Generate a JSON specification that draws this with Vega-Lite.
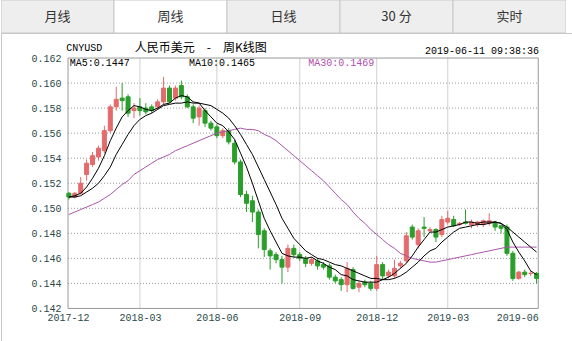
{
  "$schema": "https://vega.github.io/schema/vega-lite/v6.json",
  "padding": 0,
  "spacing": 0,
  "bounds": "flush",
  "background": "white",
  "config": {
    "view": {"stroke": null},
    "axis": {"title": null, "grid": false, "domain": false, "ticks": false, "labelFont": "Liberation Mono", "labelFontSize": 10, "labelColor": "#2a4a4a", "labelOverlap": false},
    "axisY": {"labelOverlap": false, "labelSeparation": 0, "tickCount": 30},
    "axisX": {"labelOverlap": false, "labelFlush": false, "tickCount": 30}
  },
  "datasets": {
    "tabs": [{"tab": "月线"}, {"tab": "周线"}, {"tab": "日线"}, {"tab": "30 分"}, {"tab": "实时"}],
    "hg": [{"v": 0.144}, {"v": 0.146}, {"v": 0.148}, {"v": 0.150}, {"v": 0.152}, {"v": 0.154}, {"v": 0.156}, {"v": 0.158}, {"v": 0.160}],
    "vg": [{"d": "2018/03/02"}, {"d": "2018/06/01"}, {"d": "2018/09/07"}, {"d": "2018/12/07"}, {"d": "2019/03/01"}],
    "k": [
      {"d":"2017/12/08","o":0.1512,"h":0.1513,"l":0.1507,"c":0.1509,"m5":0.1509,"m10":0.1509,"m30":0.1495},
      {"d":"2017/12/15","o":0.1509,"h":0.1513,"l":0.1508,"c":0.1512,"m5":0.1510,"m10":0.1509,"m30":0.1497},
      {"d":"2017/12/22","o":0.1512,"h":0.1525,"l":0.1511,"c":0.1520,"m5":0.1512,"m10":0.1510,"m30":0.1499},
      {"d":"2017/12/29","o":0.1527,"h":0.1539,"l":0.1522,"c":0.1536,"m5":0.1517,"m10":0.1513,"m30":0.1501},
      {"d":"2018/01/05","o":0.1535,"h":0.1545,"l":0.1533,"c":0.1542,"m5":0.1524,"m10":0.1516,"m30":0.1503},
      {"d":"2018/01/12","o":0.1541,"h":0.1550,"l":0.1538,"c":0.1548,"m5":0.1532,"m10":0.1520,"m30":0.1505},
      {"d":"2018/01/19","o":0.1546,"h":0.1566,"l":0.1544,"c":0.1562,"m5":0.1542,"m10":0.1526,"m30":0.1508},
      {"d":"2018/01/26","o":0.1562,"h":0.1583,"l":0.1560,"c":0.1581,"m5":0.1554,"m10":0.1533,"m30":0.1511},
      {"d":"2018/02/02","o":0.1581,"h":0.1597,"l":0.1578,"c":0.1587,"m5":0.1564,"m10":0.1543,"m30":0.1515},
      {"d":"2018/02/09","o":0.1588,"h":0.1600,"l":0.1578,"c":0.1586,"m5":0.1573,"m10":0.1551,"m30":0.1519},
      {"d":"2018/02/16","o":0.1589,"h":0.1591,"l":0.1573,"c":0.1576,"m5":0.1578,"m10":0.1559,"m30":0.1522},
      {"d":"2018/02/23","o":0.1578,"h":0.1584,"l":0.1572,"c":0.1580,"m5":0.1582,"m10":0.1566,"m30":0.1527},
      {"d":"2018/03/02","o":0.1581,"h":0.1588,"l":0.1574,"c":0.1578,"m5":0.1581,"m10":0.1571,"m30":0.1530},
      {"d":"2018/03/09","o":0.1580,"h":0.1584,"l":0.1575,"c":0.1577,"m5":0.1579,"m10":0.1574,"m30":0.1533},
      {"d":"2018/03/16","o":0.1581,"h":0.1583,"l":0.1576,"c":0.1578,"m5":0.1578,"m10":0.1576,"m30":0.1536},
      {"d":"2018/03/23","o":0.1581,"h":0.1587,"l":0.1579,"c":0.1585,"m5":0.1580,"m10":0.1579,"m30":0.1539},
      {"d":"2018/03/30","o":0.1585,"h":0.1605,"l":0.1583,"c":0.1596,"m5":0.1583,"m10":0.1582,"m30":0.1541},
      {"d":"2018/04/06","o":0.1596,"h":0.1598,"l":0.1584,"c":0.1585,"m5":0.1584,"m10":0.1583,"m30":0.1543},
      {"d":"2018/04/13","o":0.1588,"h":0.1598,"l":0.1586,"c":0.1596,"m5":0.1588,"m10":0.1584,"m30":0.1546},
      {"d":"2018/04/20","o":0.1598,"h":0.1602,"l":0.1587,"c":0.1589,"m5":0.1590,"m10":0.1584,"m30":0.1548},
      {"d":"2018/04/27","o":0.1589,"h":0.1591,"l":0.1580,"c":0.1581,"m5":0.1589,"m10":0.1585,"m30":0.1550},
      {"d":"2018/05/04","o":0.1581,"h":0.1583,"l":0.1568,"c":0.1572,"m5":0.1585,"m10":0.1584,"m30":0.1552},
      {"d":"2018/05/11","o":0.1573,"h":0.1582,"l":0.1566,"c":0.1580,"m5":0.1584,"m10":0.1584,"m30":0.1554},
      {"d":"2018/05/18","o":0.1578,"h":0.1580,"l":0.1565,"c":0.1568,"m5":0.1578,"m10":0.1583,"m30":0.1556},
      {"d":"2018/05/25","o":0.1568,"h":0.1570,"l":0.1562,"c":0.1564,"m5":0.1573,"m10":0.1582,"m30":0.1558},
      {"d":"2018/06/01","o":0.1565,"h":0.1567,"l":0.1556,"c":0.1558,"m5":0.1568,"m10":0.1579,"m30":0.1560},
      {"d":"2018/06/08","o":0.1558,"h":0.1564,"l":0.1556,"c":0.1562,"m5":0.1566,"m10":0.1576,"m30":0.1561},
      {"d":"2018/06/15","o":0.1562,"h":0.1564,"l":0.1551,"c":0.1553,"m5":0.1561,"m10":0.1572,"m30":0.1562},
      {"d":"2018/06/22","o":0.1552,"h":0.1555,"l":0.1535,"c":0.1537,"m5":0.1555,"m10":0.1566,"m30":0.1563},
      {"d":"2018/06/29","o":0.1537,"h":0.1539,"l":0.1509,"c":0.1511,"m5":0.1544,"m10":0.1559,"m30":0.1564},
      {"d":"2018/07/06","o":0.1511,"h":0.1514,"l":0.1497,"c":0.1504,"m5":0.1533,"m10":0.1551,"m30":0.1563},
      {"d":"2018/07/13","o":0.1506,"h":0.1510,"l":0.1489,"c":0.1497,"m5":0.1520,"m10":0.1543,"m30":0.1563},
      {"d":"2018/07/20","o":0.1497,"h":0.1499,"l":0.1468,"c":0.1479,"m5":0.1506,"m10":0.1533,"m30":0.1562},
      {"d":"2018/07/27","o":0.1482,"h":0.1484,"l":0.1461,"c":0.1467,"m5":0.1492,"m10":0.1523,"m30":0.1559},
      {"d":"2018/08/03","o":0.1466,"h":0.1468,"l":0.1451,"c":0.1462,"m5":0.1482,"m10":0.1513,"m30":0.1557},
      {"d":"2018/08/10","o":0.1463,"h":0.1465,"l":0.1456,"c":0.1459,"m5":0.1473,"m10":0.1503,"m30":0.1554},
      {"d":"2018/08/17","o":0.1459,"h":0.1462,"l":0.1440,"c":0.1453,"m5":0.1464,"m10":0.1492,"m30":0.1550},
      {"d":"2018/08/24","o":0.1453,"h":0.1471,"l":0.1449,"c":0.1468,"m5":0.1462,"m10":0.1484,"m30":0.1546},
      {"d":"2018/08/31","o":0.1468,"h":0.1471,"l":0.1461,"c":0.1463,"m5":0.1461,"m10":0.1476,"m30":0.1542},
      {"d":"2018/09/07","o":0.1463,"h":0.1465,"l":0.1458,"c":0.1460,"m5":0.1461,"m10":0.1471,"m30":0.1538},
      {"d":"2018/09/14","o":0.1460,"h":0.1462,"l":0.1453,"c":0.1456,"m5":0.1460,"m10":0.1466,"m30":0.1534},
      {"d":"2018/09/21","o":0.1456,"h":0.1461,"l":0.1454,"c":0.1459,"m5":0.1461,"m10":0.1463,"m30":0.1530},
      {"d":"2018/09/28","o":0.1458,"h":0.1460,"l":0.1451,"c":0.1454,"m5":0.1458,"m10":0.1460,"m30":0.1526},
      {"d":"2018/10/05","o":0.1455,"h":0.1457,"l":0.1451,"c":0.1453,"m5":0.1456,"m10":0.1459,"m30":0.1522},
      {"d":"2018/10/12","o":0.1454,"h":0.1456,"l":0.1443,"c":0.1445,"m5":0.1453,"m10":0.1457,"m30":0.1517},
      {"d":"2018/10/19","o":0.1445,"h":0.1447,"l":0.1440,"c":0.1442,"m5":0.1451,"m10":0.1455,"m30":0.1512},
      {"d":"2018/10/26","o":0.1443,"h":0.1445,"l":0.1434,"c":0.1439,"m5":0.1447,"m10":0.1454,"m30":0.1507},
      {"d":"2018/11/02","o":0.1439,"h":0.1457,"l":0.1433,"c":0.1452,"m5":0.1446,"m10":0.1452,"m30":0.1503},
      {"d":"2018/11/09","o":0.1451,"h":0.1453,"l":0.1435,"c":0.1436,"m5":0.1443,"m10":0.1450,"m30":0.1497},
      {"d":"2018/11/16","o":0.1437,"h":0.1442,"l":0.1433,"c":0.1440,"m5":0.1442,"m10":0.1448,"m30":0.1492},
      {"d":"2018/11/23","o":0.1441,"h":0.1443,"l":0.1437,"c":0.1439,"m5":0.1441,"m10":0.1446,"m30":0.1488},
      {"d":"2018/11/30","o":0.1440,"h":0.1442,"l":0.1434,"c":0.1436,"m5":0.1441,"m10":0.1444,"m30":0.1483},
      {"d":"2018/12/07","o":0.1436,"h":0.1462,"l":0.1434,"c":0.1455,"m5":0.1441,"m10":0.1444,"m30":0.1479},
      {"d":"2018/12/14","o":0.1455,"h":0.1457,"l":0.1443,"c":0.1446,"m5":0.1443,"m10":0.1443,"m30":0.1475},
      {"d":"2018/12/21","o":0.1446,"h":0.1451,"l":0.1444,"c":0.1449,"m5":0.1445,"m10":0.1443,"m30":0.1471},
      {"d":"2018/12/28","o":0.1446,"h":0.1459,"l":0.1444,"c":0.1452,"m5":0.1448,"m10":0.1444,"m30":0.1468},
      {"d":"2019/01/04","o":0.1454,"h":0.1458,"l":0.1452,"c":0.1456,"m5":0.1452,"m10":0.1446,"m30":0.1464},
      {"d":"2019/01/11","o":0.1458,"h":0.1481,"l":0.1456,"c":0.1478,"m5":0.1456,"m10":0.1449,"m30":0.1462},
      {"d":"2019/01/18","o":0.1485,"h":0.1487,"l":0.1475,"c":0.1477,"m5":0.1462,"m10":0.1453,"m30":0.1460},
      {"d":"2019/01/25","o":0.1471,"h":0.1484,"l":0.1468,"c":0.1482,"m5":0.1469,"m10":0.1457,"m30":0.1459},
      {"d":"2019/02/01","o":0.1485,"h":0.1493,"l":0.1477,"c":0.1484,"m5":0.1475,"m10":0.1462,"m30":0.1458},
      {"d":"2019/02/08","o":0.1482,"h":0.1485,"l":0.1481,"c":0.1483,"m5":0.1481,"m10":0.1466,"m30":0.1457},
      {"d":"2019/02/15","o":0.1483,"h":0.1484,"l":0.1473,"c":0.1477,"m5":0.1481,"m10":0.1468,"m30":0.1457},
      {"d":"2019/02/22","o":0.1479,"h":0.1494,"l":0.1477,"c":0.1491,"m5":0.1483,"m10":0.1473,"m30":0.1458},
      {"d":"2019/03/01","o":0.1489,"h":0.1498,"l":0.1487,"c":0.1492,"m5":0.1485,"m10":0.1477,"m30":0.1459},
      {"d":"2019/03/08","o":0.1491,"h":0.1494,"l":0.1485,"c":0.1486,"m5":0.1486,"m10":0.1481,"m30":0.1460},
      {"d":"2019/03/15","o":0.1487,"h":0.1489,"l":0.1486,"c":0.1488,"m5":0.1487,"m10":0.1484,"m30":0.1461},
      {"d":"2019/03/22","o":0.1489,"h":0.1499,"l":0.1487,"c":0.1488,"m5":0.1489,"m10":0.1485,"m30":0.1462},
      {"d":"2019/03/29","o":0.1487,"h":0.1491,"l":0.1484,"c":0.1489,"m5":0.1489,"m10":0.1486,"m30":0.1463},
      {"d":"2019/04/05","o":0.1487,"h":0.1490,"l":0.1485,"c":0.1489,"m5":0.1488,"m10":0.1487,"m30":0.1464},
      {"d":"2019/04/12","o":0.1487,"h":0.1491,"l":0.1485,"c":0.1490,"m5":0.1489,"m10":0.1487,"m30":0.1465},
      {"d":"2019/04/19","o":0.1488,"h":0.1496,"l":0.1486,"c":0.1490,"m5":0.1489,"m10":0.1488,"m30":0.1466},
      {"d":"2019/04/26","o":0.1489,"h":0.1490,"l":0.1482,"c":0.1485,"m5":0.1489,"m10":0.1489,"m30":0.1467},
      {"d":"2019/05/03","o":0.1486,"h":0.1487,"l":0.1480,"c":0.1484,"m5":0.1488,"m10":0.1488,"m30":0.1468},
      {"d":"2019/05/10","o":0.1485,"h":0.1487,"l":0.1462,"c":0.1464,"m5":0.1483,"m10":0.1485,"m30":0.1469},
      {"d":"2019/05/17","o":0.1464,"h":0.1466,"l":0.1442,"c":0.1444,"m5":0.1473,"m10":0.1481,"m30":0.1469},
      {"d":"2019/05/24","o":0.1444,"h":0.1450,"l":0.1443,"c":0.1449,"m5":0.1465,"m10":0.1477,"m30":0.1469},
      {"d":"2019/05/31","o":0.1449,"h":0.1451,"l":0.1445,"c":0.1447,"m5":0.1458,"m10":0.1473,"m30":0.1469},
      {"d":"2019/06/07","o":0.1448,"h":0.1450,"l":0.1446,"c":0.1448,"m5":0.1450,"m10":0.1469,"m30":0.1469},
      {"d":"2019/06/14","o":0.1448,"h":0.1449,"l":0.1440,"c":0.1444,"m5":0.1447,"m10":0.1465,"m30":0.1469}
    ]
  },
  "vconcat": [
    {
      "width": 565,
      "height": 33,
      "data": {"name": "tabs"},
      "encoding": {
        "x": {"field": "tab", "type": "nominal", "sort": null, "axis": null, "scale": {"paddingInner": 0, "paddingOuter": 0}}
      },
      "layer": [
        {
          "mark": {"type": "rect", "stroke": "#c8c8c8", "strokeWidth": 1, "clip": true},
          "encoding": {
            "color": {"condition": {"test": "datum.tab === '周线'", "value": "#ffffff"}, "value": "#eeeeee"}
          }
        },
        {
          "mark": {"type": "text", "font": "Noto Sans CJK SC", "fontSize": 13, "color": "#333333", "baseline": "middle"},
          "encoding": {"text": {"field": "tab"}}
        }
      ]
    },
    {
      "width": 572,
      "height": 308,
      "view": {"stroke": "#c8c8c8"},
      "data": {"name": "k"},
      "layer": [
        {
          "data": {"name": "vg"},
          "mark": {"type": "rule", "color": "#d0d0d0", "strokeWidth": 1},
          "encoding": {
            "x": {"field": "d", "type": "temporal"},
            "y": {"datum": 0.142, "type": "quantitative"},
            "y2": {"datum": 0.162}
          }
        },
        {
          "data": {"name": "hg"},
          "mark": {"type": "rule", "color": "#9a9a9a", "strokeWidth": 1, "strokeDash": [1, 2]},
          "encoding": {
            "y": {"field": "v", "type": "quantitative"},
            "x": {"datum": {"year": 2017, "month": 12, "date": 7}, "type": "temporal"},
            "x2": {"datum": {"year": 2019, "month": 6, "date": 16}}
          }
        },
        {
          "data": {"values": [{}]},
          "mark": {"type": "rect", "filled": false, "color": "#999999", "strokeWidth": 1},
          "encoding": {
            "x": {"datum": {"year": 2017, "month": 12, "date": 7}, "type": "temporal"},
            "x2": {"datum": {"year": 2019, "month": 6, "date": 16}},
            "y": {"datum": 0.142, "type": "quantitative"},
            "y2": {"datum": 0.162}
          }
        },
        {
          "mark": {"type": "rule", "strokeWidth": 1},
          "encoding": {
            "x": {
              "field": "d", "type": "temporal",
              "scale": {"domain": [{"year": 2017, "month": 9, "date": 24, "hours": 16}, {"year": 2019, "month": 7, "date": 21, "hours": 4}], "nice": false},
              "axis": {
                "values": [{"year": 2017, "month": 12, "date": 7}, {"year": 2018, "month": 3, "date": 2}, {"year": 2018, "month": 6, "date": 1}, {"year": 2018, "month": 9, "date": 7}, {"year": 2018, "month": 12, "date": 7}, {"year": 2019, "month": 3, "date": 1}, {"year": 2019, "month": 6, "date": 16}],
                "format": "%Y-%m",
                "offset": -32.6,
                "labelPadding": 4,
                "labelOverlap": false,
                "labelFlush": false,
                "labelBound": false,
                "tickCount": 30,
                "labelAlign": {"condition": {"test": "datum.value > 1556000000000", "value": "right"}, "value": "center"},
                "title": null
              }
            },
            "y": {
              "field": "l", "type": "quantitative",
              "scale": {"domain": [0.1394, 0.164], "nice": false, "zero": false},
              "axis": {
                "values": [0.142, 0.144, 0.146, 0.148, 0.150, 0.152, 0.154, 0.156, 0.158, 0.160, 0.162],
                "format": ".3f",
                "offset": -63,
                "labelPadding": 3,
                "labelOverlap": false,
                "labelSeparation": 0,
                "tickCount": 30,
                "labelBaseline": "middle",
                "title": null
              }
            },
            "y2": {"field": "h"},
            "color": {"condition": {"test": "datum.c >= datum.o", "value": "#e46a6c"}, "value": "#2a9e2a"}
          }
        },
        {
          "mark": {"type": "bar", "size": 4, "strokeWidth": 1},
          "encoding": {
            "x": {"field": "d", "type": "temporal"},
            "y": {"field": "o", "type": "quantitative"},
            "y2": {"field": "c"},
            "color": {"condition": {"test": "datum.c >= datum.o", "value": "#e46a6c"}, "value": "#2a9e2a"},
            "stroke": {"condition": {"test": "datum.c >= datum.o", "value": "#e46a6c"}, "value": "#2a9e2a"}
          }
        },
        {
          "mark": {"type": "line", "color": "#a855a8", "strokeWidth": 1},
          "encoding": {
            "x": {"field": "d", "type": "temporal"},
            "y": {"field": "m30", "type": "quantitative"}
          }
        },
        {
          "mark": {"type": "line", "color": "#000000", "strokeWidth": 1},
          "encoding": {
            "x": {"field": "d", "type": "temporal"},
            "y": {"field": "m10", "type": "quantitative"}
          }
        },
        {
          "mark": {"type": "line", "color": "#000000", "strokeWidth": 1},
          "encoding": {
            "x": {"field": "d", "type": "temporal"},
            "y": {"field": "m5", "type": "quantitative"}
          }
        },
        {
          "data": {"values": [{}]},
          "mark": {"type": "text", "font": "Liberation Mono", "fontSize": 10, "align": "left", "baseline": "middle", "color": "#000000", "text": "CNYUSD"},
          "encoding": {
            "x": {"datum": {"year": 2017, "month": 12, "date": 5}, "type": "temporal"},
            "y": {"datum": 0.16278, "type": "quantitative"}
          }
        },
        {
          "data": {"values": [{}]},
          "mark": {"type": "text", "font": "Noto Sans CJK SC", "fontSize": 12, "align": "left", "baseline": "middle", "color": "#000000", "text": "人民币美元　-　周K线图"},
          "encoding": {
            "x": {"datum": {"year": 2018, "month": 2, "date": 24}, "type": "temporal"},
            "y": {"datum": 0.16278, "type": "quantitative"}
          }
        },
        {
          "data": {"values": [{}]},
          "mark": {"type": "text", "font": "Liberation Mono", "fontSize": 10, "align": "right", "baseline": "middle", "color": "#000000", "text": "2019-06-11 09:38:36"},
          "encoding": {
            "x": {"datum": {"year": 2019, "month": 6, "date": 17}, "type": "temporal"},
            "y": {"datum": 0.1626, "type": "quantitative"}
          }
        },
        {
          "data": {"values": [{}]},
          "mark": {"type": "text", "font": "Liberation Mono", "fontSize": 10, "align": "left", "baseline": "middle", "color": "#000000", "text": "MA5:0.1447"},
          "encoding": {
            "x": {"datum": {"year": 2017, "month": 12, "date": 9}, "type": "temporal"},
            "y": {"datum": 0.16163, "type": "quantitative"}
          }
        },
        {
          "data": {"values": [{}]},
          "mark": {"type": "text", "font": "Liberation Mono", "fontSize": 10, "align": "left", "baseline": "middle", "color": "#000000", "text": "MA10:0.1465"},
          "encoding": {
            "x": {"datum": {"year": 2018, "month": 4, "date": 29}, "type": "temporal"},
            "y": {"datum": 0.16163, "type": "quantitative"}
          }
        },
        {
          "data": {"values": [{}]},
          "mark": {"type": "text", "font": "Liberation Mono", "fontSize": 10, "align": "left", "baseline": "middle", "color": "#b050b0", "text": "MA30:0.1469"},
          "encoding": {
            "x": {"datum": {"year": 2018, "month": 9, "date": 17}, "type": "temporal"},
            "y": {"datum": 0.16163, "type": "quantitative"}
          }
        }
      ]
    }
  ]
}
